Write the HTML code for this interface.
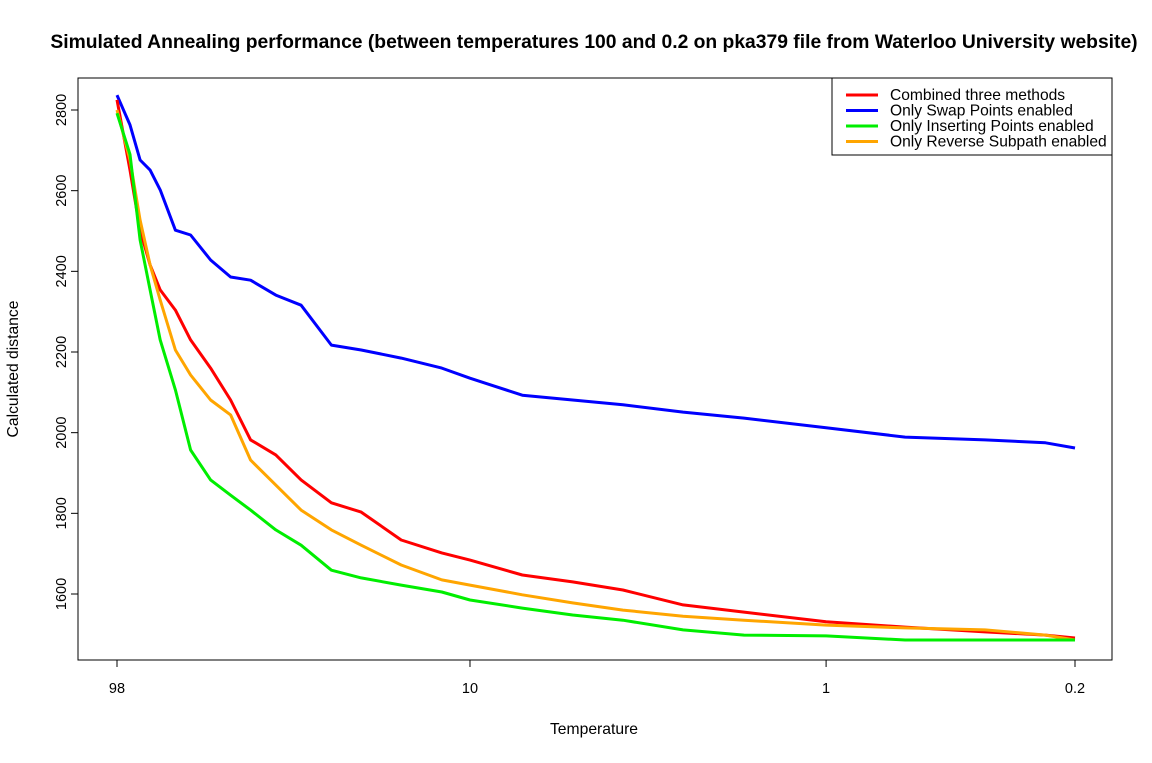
<!DOCTYPE html>
<html><head><meta charset="utf-8"><style>
body{margin:0;background:#fff;font-family:"Liberation Sans",Arial,sans-serif}
svg text{font-family:"Liberation Sans",Arial,sans-serif}
</style></head><body>
<svg id="c" width="1152" height="758" xmlns="http://www.w3.org/2000/svg">
<rect width="1152" height="758" fill="#fff"/>
<text x="594" y="48" text-anchor="middle" font-size="19.3" font-weight="bold">Simulated Annealing performance (between temperatures 100 and 0.2 on pka379 file from Waterloo University website)</text>
<rect x="78" y="78" width="1034" height="582" fill="none" stroke="#000"/>
<g id="axes"></g>
<g id="series"></g>
<text x="594" y="734" text-anchor="middle" font-size="15.7">Temperature</text>
<text transform="translate(18,369) rotate(-90)" text-anchor="middle" font-size="15.7">Calculated distance</text>
<g>
<rect x="832" y="78" width="280" height="77" fill="#fff" stroke="#000"/>
<g id="legend"></g>
</g>
</svg>
<script>
const temps=[98,90.1,84.4,79.1,74.1,67.2,60.9,53.5,47.0,41.3,35.1,29.8,24.5,20.2,15.6,12.0,10,7.13,5.15,3.72,2.52,1.70,1,0.60,0.358,0.242,0.2];
const combined=[2825,2651,2502,2416,2354,2304,2230,2160,2081,1982,1945,1883,1826,1803,1734,1702,1684,1647,1630,1610,1573,1555,1531,1518,1506,1498,1491];
const swapOnly=[2837,2763,2676,2651,2602,2502,2490,2428,2386,2378,2341,2316,2217,2205,2185,2160,2135,2093,2081,2069,2051,2036,2012,1989,1982,1975,1962];
const insertOnly=[2792,2690,2478,2354,2230,2106,1957,1883,1845,1808,1759,1721,1659,1640,1622,1605,1585,1565,1548,1535,1511,1498,1496,1486,1486,1486,1486];
const reverseOnly=[2800,2676,2527,2416,2329,2205,2143,2081,2044,1932,1870,1808,1759,1721,1672,1635,1622,1598,1578,1560,1545,1535,1523,1516,1511,1498,1486];
const yTicks=[1600,1800,2000,2200,2400,2600,2800];
const xTicks=[98,10,1,0.2];
const xTickLabels=["98","10","1","0.2"];
const seriesNames=["Combined three methods","Only Swap Points enabled","Only Inserting Points enabled","Only Reverse Subpath enabled"];
const NS="http://www.w3.org/2000/svg";
const x0=117,x1=1075;
function xs(t){return x0+(Math.log10(98)-Math.log10(t))*(x1-x0)/(Math.log10(98)-Math.log10(0.2));}
function ys(v){return 594-(v-1600)*(594-110)/1200;}
function mk(tag,attrs,parent){const e=document.createElementNS(NS,tag);for(const k in attrs)e.setAttribute(k,attrs[k]);parent.appendChild(e);return e;}
const ax=document.getElementById('axes');
yTicks.forEach(v=>{
  const l=mk('line',{x1:71,x2:78,y1:ys(v),y2:ys(v),stroke:'#000'},ax);
  
  
  const t=mk('text',{transform:`translate(66,${ys(v)}) rotate(-90)`,'text-anchor':'middle','font-size':'14.5'},ax);
  t.textContent=v;
  
  
});
xTicks.forEach((v,i)=>{
  const l=mk('line',{x1:xs(v),x2:xs(v),y1:660,y2:667,stroke:'#000'},ax);
  
  
  const t=mk('text',{x:xs(v),y:693,'text-anchor':'middle','font-size':'14.5'},ax);
  t.textContent=xTickLabels[i];
  
  
});
const sg=document.getElementById('series');
const all=[[combined,'#ff0000','line-combined'],[swapOnly,'#0000ff','line-swap-only'],[insertOnly,'#00ee00','line-insert-only'],[reverseOnly,'#ffa500','line-reverse-only']];
[all[1],all[0],all[3],all[2]].forEach(([d,c,n])=>{
  let p='';
  d.forEach((v,i)=>{p+=(i?' ':'')+xs(temps[i]).toFixed(1)+','+ys(v).toFixed(1);});
  const pl=mk('polyline',{points:p,fill:'none',stroke:c,'stroke-width':3,'stroke-linejoin':'round'},sg);
  
  
});
const lg=document.getElementById('legend');
all.forEach(([d,c,n],i)=>{
  const y=95+i*15.5;
  const l=mk('line',{x1:846,x2:878,y1:y,y2:y,stroke:c,'stroke-width':3},lg);
  
  
  const t=mk('text',{x:890,y:y+5,'font-size':'15.6'},lg);
  t.textContent=seriesNames[i];
  
  
});
</script>
</body></html>
